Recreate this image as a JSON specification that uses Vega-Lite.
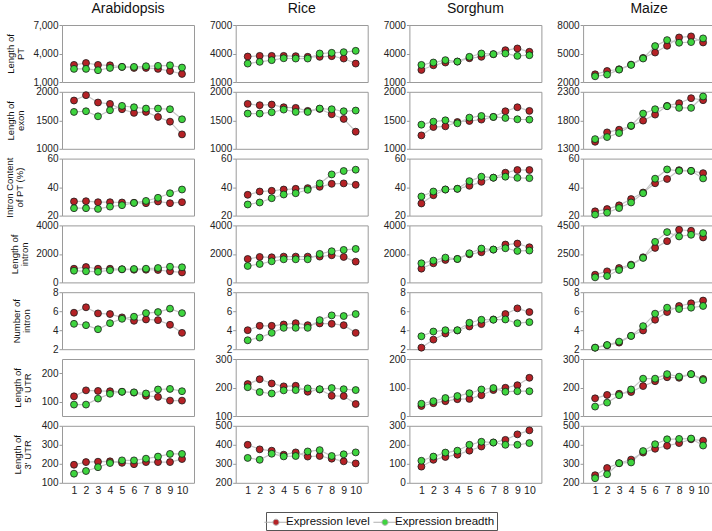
{
"$schema": "https://vega.github.io/schema/vega-lite/v6.json",
"padding": {"left": 3, "top": 1, "right": 2, "bottom": 2},
"columns": 4,
"spacing": {"row": 9.8, "column": 41.7},
"bounds": "flush",
"config": {
 "font": "Liberation Sans",
 "view": {"stroke": "#9a9a9a", "strokeWidth": 1},
 "axis": {"grid": false, "domain": false, "labelFontSize": 10, "labelColor": "#222", "titleFontSize": 9.5, "titleLineHeight": 10, "titleFontWeight": "normal", "titleColor": "#111", "titleAngle": 270, "titleBaseline": "bottom", "tickColor": "#999", "tickSize": 3, "labelPadding": 1, "labelFlush": false, "labelOverlap": false},
 "title": {"fontSize": 14, "fontWeight": "normal", "color": "#111", "offset": 4},
 "legend": {"orient": "none", "legendX": 204, "legendY": 487, "direction": "horizontal", "strokeColor": "#555", "padding": 2, "symbolType": "M-1.6,0L-0.42,0M0.42,0L1.6,0M-0.42,0A0.42,0.42,0,1,0,0.42,0A0.42,0.42,0,1,0,-0.42,0Z", "symbolSize": 210, "symbolStrokeColor": "#b0b0b0", "symbolStrokeWidth": 1, "labelFontSize": 11.5, "labelColor": "#111", "columnPadding": 1, "labelOffset": 2}
},
"datasets": {
"d11": [{"x":1,"s":"L","y":2800},{"x":2,"s":"L","y":3000},{"x":3,"s":"L","y":2800},{"x":4,"s":"L","y":2760},{"x":5,"s":"L","y":2590},{"x":6,"s":"L","y":2480},{"x":7,"s":"L","y":2480},{"x":8,"s":"L","y":2380},{"x":9,"s":"L","y":2160},{"x":10,"s":"L","y":1850},{"x":1,"s":"B","y":2380},{"x":2,"s":"B","y":2380},{"x":3,"s":"B","y":2240},{"x":4,"s":"B","y":2480},{"x":5,"s":"B","y":2590},{"x":6,"s":"B","y":2590},{"x":7,"s":"B","y":2660},{"x":8,"s":"B","y":2700},{"x":9,"s":"B","y":2760},{"x":10,"s":"B","y":2520}],
"d12": [{"x":1,"s":"L","y":3680},{"x":2,"s":"L","y":3750},{"x":3,"s":"L","y":3750},{"x":4,"s":"L","y":3750},{"x":5,"s":"L","y":3720},{"x":6,"s":"L","y":3650},{"x":7,"s":"L","y":3650},{"x":8,"s":"L","y":3720},{"x":9,"s":"L","y":3470},{"x":10,"s":"L","y":2940},{"x":1,"s":"B","y":2940},{"x":2,"s":"B","y":3120},{"x":3,"s":"B","y":3300},{"x":4,"s":"B","y":3500},{"x":5,"s":"B","y":3470},{"x":6,"s":"B","y":3470},{"x":7,"s":"B","y":4000},{"x":8,"s":"B","y":4070},{"x":9,"s":"B","y":4140},{"x":10,"s":"B","y":4280}],
"d13": [{"x":1,"s":"L","y":2270},{"x":2,"s":"L","y":2760},{"x":3,"s":"L","y":3050},{"x":4,"s":"L","y":3150},{"x":5,"s":"L","y":3500},{"x":6,"s":"L","y":3650},{"x":7,"s":"L","y":3930},{"x":8,"s":"L","y":4350},{"x":9,"s":"L","y":4530},{"x":10,"s":"L","y":4180},{"x":1,"s":"B","y":2800},{"x":2,"s":"B","y":3050},{"x":3,"s":"B","y":3300},{"x":4,"s":"B","y":3150},{"x":5,"s":"B","y":3650},{"x":6,"s":"B","y":4000},{"x":7,"s":"B","y":3930},{"x":8,"s":"B","y":4000},{"x":9,"s":"B","y":3750},{"x":10,"s":"B","y":3820}],
"d14": [{"x":1,"s":"L","y":2810},{"x":2,"s":"L","y":3160},{"x":3,"s":"L","y":3340},{"x":4,"s":"L","y":3830},{"x":5,"s":"L","y":4540},{"x":6,"s":"L","y":5100},{"x":7,"s":"L","y":5810},{"x":8,"s":"L","y":6690},{"x":9,"s":"L","y":6800},{"x":10,"s":"L","y":6160},{"x":1,"s":"B","y":2600},{"x":2,"s":"B","y":2780},{"x":3,"s":"B","y":3300},{"x":4,"s":"B","y":3800},{"x":5,"s":"B","y":4470},{"x":6,"s":"B","y":5780},{"x":7,"s":"B","y":6410},{"x":8,"s":"B","y":6130},{"x":9,"s":"B","y":6200},{"x":10,"s":"B","y":6590}],
"d21": [{"x":1,"s":"L","y":1847},{"x":2,"s":"L","y":1941},{"x":3,"s":"L","y":1812},{"x":4,"s":"L","y":1788},{"x":5,"s":"L","y":1694},{"x":6,"s":"L","y":1630},{"x":7,"s":"L","y":1647},{"x":8,"s":"L","y":1559},{"x":9,"s":"L","y":1476},{"x":10,"s":"L","y":1253},{"x":1,"s":"B","y":1647},{"x":2,"s":"B","y":1659},{"x":3,"s":"B","y":1570},{"x":4,"s":"B","y":1676},{"x":5,"s":"B","y":1753},{"x":6,"s":"B","y":1729},{"x":7,"s":"B","y":1706},{"x":8,"s":"B","y":1706},{"x":9,"s":"B","y":1694},{"x":10,"s":"B","y":1518}],
"d22": [{"x":1,"s":"L","y":1788},{"x":2,"s":"L","y":1765},{"x":3,"s":"L","y":1776},{"x":4,"s":"L","y":1729},{"x":5,"s":"L","y":1718},{"x":6,"s":"L","y":1665},{"x":7,"s":"L","y":1700},{"x":8,"s":"L","y":1606},{"x":9,"s":"L","y":1524},{"x":10,"s":"L","y":1300},{"x":1,"s":"B","y":1618},{"x":2,"s":"B","y":1618},{"x":3,"s":"B","y":1641},{"x":4,"s":"B","y":1688},{"x":5,"s":"B","y":1647},{"x":6,"s":"B","y":1647},{"x":7,"s":"B","y":1706},{"x":8,"s":"B","y":1694},{"x":9,"s":"B","y":1659},{"x":10,"s":"B","y":1671}],
"d23": [{"x":1,"s":"L","y":1235},{"x":2,"s":"L","y":1382},{"x":3,"s":"L","y":1394},{"x":4,"s":"L","y":1470},{"x":5,"s":"L","y":1488},{"x":6,"s":"L","y":1512},{"x":7,"s":"L","y":1559},{"x":8,"s":"L","y":1659},{"x":9,"s":"L","y":1729},{"x":10,"s":"L","y":1665},{"x":1,"s":"B","y":1423},{"x":2,"s":"B","y":1476},{"x":3,"s":"B","y":1500},{"x":4,"s":"B","y":1447},{"x":5,"s":"B","y":1547},{"x":6,"s":"B","y":1576},{"x":7,"s":"B","y":1559},{"x":8,"s":"B","y":1541},{"x":9,"s":"B","y":1518},{"x":10,"s":"B","y":1512}],
"d24": [{"x":1,"s":"L","y":1423},{"x":2,"s":"L","y":1588},{"x":3,"s":"L","y":1635},{"x":4,"s":"L","y":1700},{"x":5,"s":"L","y":1794},{"x":6,"s":"L","y":1900},{"x":7,"s":"L","y":2053},{"x":8,"s":"L","y":2100},{"x":9,"s":"L","y":2188},{"x":10,"s":"L","y":2153},{"x":1,"s":"B","y":1470},{"x":2,"s":"B","y":1506},{"x":3,"s":"B","y":1576},{"x":4,"s":"B","y":1706},{"x":5,"s":"B","y":1918},{"x":6,"s":"B","y":1994},{"x":7,"s":"B","y":2047},{"x":8,"s":"B","y":2018},{"x":9,"s":"B","y":2018},{"x":10,"s":"B","y":2218}],
"d31": [{"x":1,"s":"L","y":29.9},{"x":2,"s":"L","y":30.1},{"x":3,"s":"L","y":29.4},{"x":4,"s":"L","y":29.4},{"x":5,"s":"L","y":29.2},{"x":6,"s":"L","y":29.0},{"x":7,"s":"L","y":28.7},{"x":8,"s":"L","y":29.9},{"x":9,"s":"L","y":28.7},{"x":10,"s":"L","y":29.4},{"x":1,"s":"B","y":25.2},{"x":2,"s":"B","y":25.2},{"x":3,"s":"B","y":24.7},{"x":4,"s":"B","y":26.3},{"x":5,"s":"B","y":27.3},{"x":6,"s":"B","y":28.9},{"x":7,"s":"B","y":30.3},{"x":8,"s":"B","y":32.5},{"x":9,"s":"B","y":35.7},{"x":10,"s":"B","y":38.3}],
"d32": [{"x":1,"s":"L","y":34.6},{"x":2,"s":"L","y":36.9},{"x":3,"s":"L","y":37.4},{"x":4,"s":"L","y":38.3},{"x":5,"s":"L","y":38.8},{"x":6,"s":"L","y":39.3},{"x":7,"s":"L","y":40.2},{"x":8,"s":"L","y":42.3},{"x":9,"s":"L","y":42.6},{"x":10,"s":"L","y":41.6},{"x":1,"s":"B","y":27.8},{"x":2,"s":"B","y":29.2},{"x":3,"s":"B","y":32.2},{"x":4,"s":"B","y":34.8},{"x":5,"s":"B","y":35.7},{"x":6,"s":"B","y":38.1},{"x":7,"s":"B","y":42.6},{"x":8,"s":"B","y":48.9},{"x":9,"s":"B","y":51.3},{"x":10,"s":"B","y":52.2}],
"d33": [{"x":1,"s":"L","y":28.5},{"x":2,"s":"L","y":34.3},{"x":3,"s":"L","y":38.3},{"x":4,"s":"L","y":38.8},{"x":5,"s":"L","y":40.9},{"x":6,"s":"L","y":43.7},{"x":7,"s":"L","y":46.6},{"x":8,"s":"L","y":50.1},{"x":9,"s":"L","y":52.0},{"x":10,"s":"L","y":52.0},{"x":1,"s":"B","y":33.4},{"x":2,"s":"B","y":36.9},{"x":3,"s":"B","y":38.3},{"x":4,"s":"B","y":38.8},{"x":5,"s":"B","y":44.2},{"x":6,"s":"B","y":47.3},{"x":7,"s":"B","y":46.6},{"x":8,"s":"B","y":47.3},{"x":9,"s":"B","y":46.5},{"x":10,"s":"B","y":46.3}],
"d34": [{"x":1,"s":"L","y":23.0},{"x":2,"s":"L","y":24.6},{"x":3,"s":"L","y":27.2},{"x":4,"s":"L","y":31.6},{"x":5,"s":"L","y":36.2},{"x":6,"s":"L","y":42.7},{"x":7,"s":"L","y":45.7},{"x":8,"s":"L","y":51.9},{"x":9,"s":"L","y":51.4},{"x":10,"s":"L","y":49.8},{"x":1,"s":"B","y":20.7},{"x":2,"s":"B","y":22.1},{"x":3,"s":"B","y":25.3},{"x":4,"s":"B","y":29.2},{"x":5,"s":"B","y":35.7},{"x":6,"s":"B","y":45.9},{"x":7,"s":"B","y":52.4},{"x":8,"s":"B","y":51.4},{"x":9,"s":"B","y":51.4},{"x":10,"s":"B","y":46.1}],
"d41": [{"x":1,"s":"L","y":960},{"x":2,"s":"L","y":1080},{"x":3,"s":"L","y":960},{"x":4,"s":"L","y":960},{"x":5,"s":"L","y":920},{"x":6,"s":"L","y":890},{"x":7,"s":"L","y":890},{"x":8,"s":"L","y":870},{"x":9,"s":"L","y":780},{"x":10,"s":"L","y":700},{"x":1,"s":"B","y":820},{"x":2,"s":"B","y":780},{"x":3,"s":"B","y":750},{"x":4,"s":"B","y":850},{"x":5,"s":"B","y":920},{"x":6,"s":"B","y":940},{"x":7,"s":"B","y":960},{"x":8,"s":"B","y":1010},{"x":9,"s":"B","y":1100},{"x":10,"s":"B","y":1060}],
"d42": [{"x":1,"s":"L","y":1645},{"x":2,"s":"L","y":1786},{"x":3,"s":"L","y":1763},{"x":4,"s":"L","y":1810},{"x":5,"s":"L","y":1810},{"x":6,"s":"L","y":1810},{"x":7,"s":"L","y":1810},{"x":8,"s":"L","y":1904},{"x":9,"s":"L","y":1786},{"x":10,"s":"L","y":1457},{"x":1,"s":"B","y":1152},{"x":2,"s":"B","y":1293},{"x":3,"s":"B","y":1481},{"x":4,"s":"B","y":1622},{"x":5,"s":"B","y":1622},{"x":6,"s":"B","y":1622},{"x":7,"s":"B","y":2000},{"x":8,"s":"B","y":2186},{"x":9,"s":"B","y":2280},{"x":10,"s":"B","y":2350}],
"d43": [{"x":1,"s":"L","y":964},{"x":2,"s":"L","y":1340},{"x":3,"s":"L","y":1575},{"x":4,"s":"L","y":1645},{"x":5,"s":"L","y":1974},{"x":6,"s":"L","y":2115},{"x":7,"s":"L","y":2303},{"x":8,"s":"L","y":2656},{"x":9,"s":"L","y":2726},{"x":10,"s":"L","y":2468},{"x":1,"s":"B","y":1340},{"x":2,"s":"B","y":1528},{"x":3,"s":"B","y":1740},{"x":4,"s":"B","y":1645},{"x":5,"s":"B","y":2045},{"x":6,"s":"B","y":2374},{"x":7,"s":"B","y":2303},{"x":8,"s":"B","y":2397},{"x":9,"s":"B","y":2209},{"x":10,"s":"B","y":2233}],
"d44": [{"x":1,"s":"L","y":1041},{"x":2,"s":"L","y":1276},{"x":3,"s":"L","y":1511},{"x":4,"s":"L","y":1746},{"x":5,"s":"L","y":2263},{"x":6,"s":"L","y":2920},{"x":7,"s":"L","y":3395},{"x":8,"s":"L","y":4195},{"x":9,"s":"L","y":4124},{"x":10,"s":"L","y":3654},{"x":1,"s":"B","y":853},{"x":2,"s":"B","y":947},{"x":3,"s":"B","y":1370},{"x":4,"s":"B","y":1699},{"x":5,"s":"B","y":2216},{"x":6,"s":"B","y":3345},{"x":7,"s":"B","y":4030},{"x":8,"s":"B","y":3725},{"x":9,"s":"B","y":3842},{"x":10,"s":"B","y":3960}],
"d51": [{"x":1,"s":"L","y":5.84},{"x":2,"s":"L","y":6.41},{"x":3,"s":"L","y":5.77},{"x":4,"s":"L","y":5.70},{"x":5,"s":"L","y":5.35},{"x":6,"s":"L","y":4.99},{"x":7,"s":"L","y":5.13},{"x":8,"s":"L","y":5.06},{"x":9,"s":"L","y":4.57},{"x":10,"s":"L","y":3.72},{"x":1,"s":"B","y":4.67},{"x":2,"s":"B","y":4.53},{"x":3,"s":"B","y":4.10},{"x":4,"s":"B","y":4.74},{"x":5,"s":"B","y":5.20},{"x":6,"s":"B","y":5.42},{"x":7,"s":"B","y":5.80},{"x":8,"s":"B","y":5.91},{"x":9,"s":"B","y":6.27},{"x":10,"s":"B","y":5.80}],
"d52": [{"x":1,"s":"L","y":4.00},{"x":2,"s":"L","y":4.46},{"x":3,"s":"L","y":4.46},{"x":4,"s":"L","y":4.60},{"x":5,"s":"L","y":4.74},{"x":6,"s":"L","y":4.53},{"x":7,"s":"L","y":4.71},{"x":8,"s":"L","y":4.67},{"x":9,"s":"L","y":4.53},{"x":10,"s":"L","y":3.72},{"x":1,"s":"B","y":2.94},{"x":2,"s":"B","y":3.22},{"x":3,"s":"B","y":3.72},{"x":4,"s":"B","y":4.25},{"x":5,"s":"B","y":4.25},{"x":6,"s":"B","y":4.25},{"x":7,"s":"B","y":5.06},{"x":8,"s":"B","y":5.56},{"x":9,"s":"B","y":5.49},{"x":10,"s":"B","y":5.70}],
"d53": [{"x":1,"s":"L","y":2.16},{"x":2,"s":"L","y":3.01},{"x":3,"s":"L","y":3.65},{"x":4,"s":"L","y":3.97},{"x":5,"s":"L","y":4.39},{"x":6,"s":"L","y":4.64},{"x":7,"s":"L","y":5.13},{"x":8,"s":"L","y":5.70},{"x":9,"s":"L","y":6.30},{"x":10,"s":"L","y":5.91},{"x":1,"s":"B","y":3.36},{"x":2,"s":"B","y":3.86},{"x":3,"s":"B","y":4.00},{"x":4,"s":"B","y":4.00},{"x":5,"s":"B","y":4.78},{"x":6,"s":"B","y":5.10},{"x":7,"s":"B","y":5.10},{"x":8,"s":"B","y":5.13},{"x":9,"s":"B","y":4.74},{"x":10,"s":"B","y":4.85}],
"d54": [{"x":1,"s":"L","y":2.16},{"x":2,"s":"L","y":2.41},{"x":3,"s":"L","y":2.69},{"x":4,"s":"L","y":3.40},{"x":5,"s":"L","y":3.97},{"x":6,"s":"L","y":5.10},{"x":7,"s":"L","y":5.91},{"x":8,"s":"L","y":6.55},{"x":9,"s":"L","y":6.83},{"x":10,"s":"L","y":7.12},{"x":1,"s":"B","y":2.16},{"x":2,"s":"B","y":2.44},{"x":3,"s":"B","y":2.80},{"x":4,"s":"B","y":3.40},{"x":5,"s":"B","y":4.43},{"x":6,"s":"B","y":5.74},{"x":7,"s":"B","y":6.37},{"x":8,"s":"B","y":6.23},{"x":9,"s":"B","y":6.37},{"x":10,"s":"B","y":6.55}],
"d61": [{"x":1,"s":"L","y":119},{"x":2,"s":"L","y":140},{"x":3,"s":"L","y":138},{"x":4,"s":"L","y":137},{"x":5,"s":"L","y":135},{"x":6,"s":"L","y":132},{"x":7,"s":"L","y":121},{"x":8,"s":"L","y":117},{"x":9,"s":"L","y":104},{"x":10,"s":"L","y":104},{"x":1,"s":"B","y":90},{"x":2,"s":"B","y":90},{"x":3,"s":"B","y":111},{"x":4,"s":"B","y":128},{"x":5,"s":"B","y":135},{"x":6,"s":"B","y":133},{"x":7,"s":"B","y":129},{"x":8,"s":"B","y":143},{"x":9,"s":"B","y":145},{"x":10,"s":"B","y":137}],
"d62": [{"x":1,"s":"L","y":212},{"x":2,"s":"L","y":229},{"x":3,"s":"L","y":214},{"x":4,"s":"L","y":204},{"x":5,"s":"L","y":206},{"x":6,"s":"L","y":185},{"x":7,"s":"L","y":193},{"x":8,"s":"L","y":171},{"x":9,"s":"L","y":170},{"x":10,"s":"L","y":142},{"x":1,"s":"B","y":201},{"x":2,"s":"B","y":184},{"x":3,"s":"B","y":179},{"x":4,"s":"B","y":190},{"x":5,"s":"B","y":191},{"x":6,"s":"B","y":197},{"x":7,"s":"B","y":194},{"x":8,"s":"B","y":198},{"x":9,"s":"B","y":194},{"x":10,"s":"B","y":191}],
"d63": [{"x":1,"s":"L","y":35},{"x":2,"s":"L","y":45},{"x":3,"s":"L","y":52},{"x":4,"s":"L","y":59},{"x":5,"s":"L","y":60},{"x":6,"s":"L","y":73},{"x":7,"s":"L","y":91},{"x":8,"s":"L","y":99},{"x":9,"s":"L","y":108},{"x":10,"s":"L","y":134},{"x":1,"s":"B","y":43},{"x":2,"s":"B","y":52},{"x":3,"s":"B","y":63},{"x":4,"s":"B","y":70},{"x":5,"s":"B","y":80},{"x":6,"s":"B","y":93},{"x":7,"s":"B","y":98},{"x":8,"s":"B","y":85},{"x":9,"s":"B","y":87},{"x":10,"s":"B","y":87}],
"d64": [{"x":1,"s":"L","y":162},{"x":2,"s":"L","y":174},{"x":3,"s":"L","y":178},{"x":4,"s":"L","y":184},{"x":5,"s":"L","y":205},{"x":6,"s":"L","y":222},{"x":7,"s":"L","y":236},{"x":8,"s":"L","y":234},{"x":9,"s":"L","y":247},{"x":10,"s":"L","y":230},{"x":1,"s":"B","y":133},{"x":2,"s":"B","y":147},{"x":3,"s":"B","y":173},{"x":4,"s":"B","y":193},{"x":5,"s":"B","y":231},{"x":6,"s":"B","y":231},{"x":7,"s":"B","y":247},{"x":8,"s":"B","y":238},{"x":9,"s":"B","y":247},{"x":10,"s":"B","y":226}],
"d71": [{"x":1,"s":"L","y":195},{"x":2,"s":"L","y":209},{"x":3,"s":"L","y":211},{"x":4,"s":"L","y":213},{"x":5,"s":"L","y":205},{"x":6,"s":"L","y":198},{"x":7,"s":"L","y":209},{"x":8,"s":"L","y":209},{"x":9,"s":"L","y":209},{"x":10,"s":"L","y":225},{"x":1,"s":"B","y":148},{"x":2,"s":"B","y":162},{"x":3,"s":"B","y":182},{"x":4,"s":"B","y":204},{"x":5,"s":"B","y":218},{"x":6,"s":"B","y":218},{"x":7,"s":"B","y":227},{"x":8,"s":"B","y":238},{"x":9,"s":"B","y":252},{"x":10,"s":"B","y":252}],
"d72": [{"x":1,"s":"L","y":400},{"x":2,"s":"L","y":376},{"x":3,"s":"L","y":369},{"x":4,"s":"L","y":348},{"x":5,"s":"L","y":360},{"x":6,"s":"L","y":338},{"x":7,"s":"L","y":341},{"x":8,"s":"L","y":327},{"x":9,"s":"L","y":313},{"x":10,"s":"L","y":302},{"x":1,"s":"B","y":331},{"x":2,"s":"B","y":321},{"x":3,"s":"B","y":353},{"x":4,"s":"B","y":339},{"x":5,"s":"B","y":341},{"x":6,"s":"B","y":365},{"x":7,"s":"B","y":372},{"x":8,"s":"B","y":341},{"x":9,"s":"B","y":350},{"x":10,"s":"B","y":360}],
"d73": [{"x":1,"s":"L","y":85},{"x":2,"s":"L","y":121},{"x":3,"s":"L","y":136},{"x":4,"s":"L","y":148},{"x":5,"s":"L","y":169},{"x":6,"s":"L","y":191},{"x":7,"s":"L","y":212},{"x":8,"s":"L","y":226},{"x":9,"s":"L","y":255},{"x":10,"s":"L","y":276},{"x":1,"s":"B","y":116},{"x":2,"s":"B","y":138},{"x":3,"s":"B","y":159},{"x":4,"s":"B","y":169},{"x":5,"s":"B","y":200},{"x":6,"s":"B","y":216},{"x":7,"s":"B","y":212},{"x":8,"s":"B","y":200},{"x":9,"s":"B","y":200},{"x":10,"s":"B","y":209}],
"d74": [{"x":1,"s":"L","y":240},{"x":2,"s":"L","y":278},{"x":3,"s":"L","y":303},{"x":4,"s":"L","y":322},{"x":5,"s":"L","y":359},{"x":6,"s":"L","y":379},{"x":7,"s":"L","y":395},{"x":8,"s":"L","y":409},{"x":9,"s":"L","y":429},{"x":10,"s":"L","y":422},{"x":1,"s":"B","y":224},{"x":2,"s":"B","y":245},{"x":3,"s":"B","y":303},{"x":4,"s":"B","y":307},{"x":5,"s":"B","y":367},{"x":6,"s":"B","y":403},{"x":7,"s":"B","y":429},{"x":8,"s":"B","y":431},{"x":9,"s":"B","y":433},{"x":10,"s":"B","y":396}]
},
"concat": [
{"data":{"name":"d11"},"width":132,"height":57,"title":"Arabidopsis","encoding":{"x":{"field":"x","type":"quantitative","scale":{"domain":[0,11],"nice":false},"axis":null},"y":{"field":"y","type":"quantitative","scale":{"domain":[1000,7000],"nice":false},"axis":{"values":[1000,4000,7000],"format":",d","title":["Length of","PT"],"titleX":-47}}},"layer":[{"mark":{"type":"line","color":"#c6c6c6","strokeWidth":1.2},"encoding":{"detail":{"field":"s"}}},{"mark":{"type":"point","filled":true,"size":48,"stroke":"#1a1a1a","strokeWidth":0.8,"opacity":1},"encoding":{"color":{"field":"s","type":"nominal","scale":{"domain":["L","B"],"range":["#b52226","#3ed43e"]},"legend":{"title":null,"labelExpr":"datum.value=='L'?'Expression level':'Expression breadth'"}}}}]},
{"data":{"name":"d12"},"width":132,"height":57,"title":"Rice","encoding":{"x":{"field":"x","type":"quantitative","scale":{"domain":[0,11],"nice":false},"axis":null},"y":{"field":"y","type":"quantitative","scale":{"domain":[1000,7000],"nice":false},"axis":{"values":[1000,4000,7000],"format":"d","title":null}}},"layer":[{"mark":{"type":"line","color":"#c6c6c6","strokeWidth":1.2},"encoding":{"detail":{"field":"s"}}},{"mark":{"type":"point","filled":true,"size":48,"stroke":"#1a1a1a","strokeWidth":0.8,"opacity":1},"encoding":{"color":{"field":"s","type":"nominal","scale":{"domain":["L","B"],"range":["#b52226","#3ed43e"]},"legend":{"title":null,"labelExpr":"datum.value=='L'?'Expression level':'Expression breadth'"}}}}]},
{"data":{"name":"d13"},"width":132,"height":57,"title":"Sorghum","encoding":{"x":{"field":"x","type":"quantitative","scale":{"domain":[0,11],"nice":false},"axis":null},"y":{"field":"y","type":"quantitative","scale":{"domain":[1000,7000],"nice":false},"axis":{"values":[1000,4000,7000],"format":"d","title":null}}},"layer":[{"mark":{"type":"line","color":"#c6c6c6","strokeWidth":1.2},"encoding":{"detail":{"field":"s"}}},{"mark":{"type":"point","filled":true,"size":48,"stroke":"#1a1a1a","strokeWidth":0.8,"opacity":1},"encoding":{"color":{"field":"s","type":"nominal","scale":{"domain":["L","B"],"range":["#b52226","#3ed43e"]},"legend":{"title":null,"labelExpr":"datum.value=='L'?'Expression level':'Expression breadth'"}}}}]},
{"data":{"name":"d14"},"width":132,"height":57,"title":"Maize","encoding":{"x":{"field":"x","type":"quantitative","scale":{"domain":[0,11],"nice":false},"axis":null},"y":{"field":"y","type":"quantitative","scale":{"domain":[2000,8000],"nice":false},"axis":{"values":[2000,5000,8000],"format":"d","title":null}}},"layer":[{"mark":{"type":"line","color":"#c6c6c6","strokeWidth":1.2},"encoding":{"detail":{"field":"s"}}},{"mark":{"type":"point","filled":true,"size":48,"stroke":"#1a1a1a","strokeWidth":0.8,"opacity":1},"encoding":{"color":{"field":"s","type":"nominal","scale":{"domain":["L","B"],"range":["#b52226","#3ed43e"]},"legend":{"title":null,"labelExpr":"datum.value=='L'?'Expression level':'Expression breadth'"}}}}]},

{"data":{"name":"d21"},"width":132,"height":57,"encoding":{"x":{"field":"x","type":"quantitative","scale":{"domain":[0,11],"nice":false},"axis":null},"y":{"field":"y","type":"quantitative","scale":{"domain":[1000,2000],"nice":false},"axis":{"values":[1000,1500,2000],"format":"d","title":["Length of","exon"],"titleX":-47}}},"layer":[{"mark":{"type":"line","color":"#c6c6c6","strokeWidth":1.2},"encoding":{"detail":{"field":"s"}}},{"mark":{"type":"point","filled":true,"size":48,"stroke":"#1a1a1a","strokeWidth":0.8,"opacity":1},"encoding":{"color":{"field":"s","type":"nominal","scale":{"domain":["L","B"],"range":["#b52226","#3ed43e"]},"legend":{"title":null,"labelExpr":"datum.value=='L'?'Expression level':'Expression breadth'"}}}}]},
{"data":{"name":"d22"},"width":132,"height":57,"encoding":{"x":{"field":"x","type":"quantitative","scale":{"domain":[0,11],"nice":false},"axis":null},"y":{"field":"y","type":"quantitative","scale":{"domain":[1000,2000],"nice":false},"axis":{"values":[1000,1500,2000],"format":"d","title":null}}},"layer":[{"mark":{"type":"line","color":"#c6c6c6","strokeWidth":1.2},"encoding":{"detail":{"field":"s"}}},{"mark":{"type":"point","filled":true,"size":48,"stroke":"#1a1a1a","strokeWidth":0.8,"opacity":1},"encoding":{"color":{"field":"s","type":"nominal","scale":{"domain":["L","B"],"range":["#b52226","#3ed43e"]},"legend":{"title":null,"labelExpr":"datum.value=='L'?'Expression level':'Expression breadth'"}}}}]},
{"data":{"name":"d23"},"width":132,"height":57,"encoding":{"x":{"field":"x","type":"quantitative","scale":{"domain":[0,11],"nice":false},"axis":null},"y":{"field":"y","type":"quantitative","scale":{"domain":[1000,2000],"nice":false},"axis":{"values":[1000,1500,2000],"format":"d","title":null}}},"layer":[{"mark":{"type":"line","color":"#c6c6c6","strokeWidth":1.2},"encoding":{"detail":{"field":"s"}}},{"mark":{"type":"point","filled":true,"size":48,"stroke":"#1a1a1a","strokeWidth":0.8,"opacity":1},"encoding":{"color":{"field":"s","type":"nominal","scale":{"domain":["L","B"],"range":["#b52226","#3ed43e"]},"legend":{"title":null,"labelExpr":"datum.value=='L'?'Expression level':'Expression breadth'"}}}}]},
{"data":{"name":"d24"},"width":132,"height":57,"encoding":{"x":{"field":"x","type":"quantitative","scale":{"domain":[0,11],"nice":false},"axis":null},"y":{"field":"y","type":"quantitative","scale":{"domain":[1300,2300],"nice":false},"axis":{"values":[1300,1800,2300],"format":"d","title":null}}},"layer":[{"mark":{"type":"line","color":"#c6c6c6","strokeWidth":1.2},"encoding":{"detail":{"field":"s"}}},{"mark":{"type":"point","filled":true,"size":48,"stroke":"#1a1a1a","strokeWidth":0.8,"opacity":1},"encoding":{"color":{"field":"s","type":"nominal","scale":{"domain":["L","B"],"range":["#b52226","#3ed43e"]},"legend":{"title":null,"labelExpr":"datum.value=='L'?'Expression level':'Expression breadth'"}}}}]},

{"data":{"name":"d31"},"width":132,"height":57,"encoding":{"x":{"field":"x","type":"quantitative","scale":{"domain":[0,11],"nice":false},"axis":null},"y":{"field":"y","type":"quantitative","scale":{"domain":[20,60],"nice":false},"axis":{"values":[20,40,60],"format":"d","title":["Intron Content","of PT (%)"],"titleX":-48}}},"layer":[{"mark":{"type":"line","color":"#c6c6c6","strokeWidth":1.2},"encoding":{"detail":{"field":"s"}}},{"mark":{"type":"point","filled":true,"size":48,"stroke":"#1a1a1a","strokeWidth":0.8,"opacity":1},"encoding":{"color":{"field":"s","type":"nominal","scale":{"domain":["L","B"],"range":["#b52226","#3ed43e"]},"legend":{"title":null,"labelExpr":"datum.value=='L'?'Expression level':'Expression breadth'"}}}}]},
{"data":{"name":"d32"},"width":132,"height":57,"encoding":{"x":{"field":"x","type":"quantitative","scale":{"domain":[0,11],"nice":false},"axis":null},"y":{"field":"y","type":"quantitative","scale":{"domain":[20,60],"nice":false},"axis":{"values":[20,40,60],"format":"d","title":null}}},"layer":[{"mark":{"type":"line","color":"#c6c6c6","strokeWidth":1.2},"encoding":{"detail":{"field":"s"}}},{"mark":{"type":"point","filled":true,"size":48,"stroke":"#1a1a1a","strokeWidth":0.8,"opacity":1},"encoding":{"color":{"field":"s","type":"nominal","scale":{"domain":["L","B"],"range":["#b52226","#3ed43e"]},"legend":{"title":null,"labelExpr":"datum.value=='L'?'Expression level':'Expression breadth'"}}}}]},
{"data":{"name":"d33"},"width":132,"height":57,"encoding":{"x":{"field":"x","type":"quantitative","scale":{"domain":[0,11],"nice":false},"axis":null},"y":{"field":"y","type":"quantitative","scale":{"domain":[20,60],"nice":false},"axis":{"values":[20,40,60],"format":"d","title":null}}},"layer":[{"mark":{"type":"line","color":"#c6c6c6","strokeWidth":1.2},"encoding":{"detail":{"field":"s"}}},{"mark":{"type":"point","filled":true,"size":48,"stroke":"#1a1a1a","strokeWidth":0.8,"opacity":1},"encoding":{"color":{"field":"s","type":"nominal","scale":{"domain":["L","B"],"range":["#b52226","#3ed43e"]},"legend":{"title":null,"labelExpr":"datum.value=='L'?'Expression level':'Expression breadth'"}}}}]},
{"data":{"name":"d34"},"width":132,"height":57,"encoding":{"x":{"field":"x","type":"quantitative","scale":{"domain":[0,11],"nice":false},"axis":null},"y":{"field":"y","type":"quantitative","scale":{"domain":[20,60],"nice":false},"axis":{"values":[20,40,60],"format":"d","title":null}}},"layer":[{"mark":{"type":"line","color":"#c6c6c6","strokeWidth":1.2},"encoding":{"detail":{"field":"s"}}},{"mark":{"type":"point","filled":true,"size":48,"stroke":"#1a1a1a","strokeWidth":0.8,"opacity":1},"encoding":{"color":{"field":"s","type":"nominal","scale":{"domain":["L","B"],"range":["#b52226","#3ed43e"]},"legend":{"title":null,"labelExpr":"datum.value=='L'?'Expression level':'Expression breadth'"}}}}]},

{"data":{"name":"d41"},"width":132,"height":57,"encoding":{"x":{"field":"x","type":"quantitative","scale":{"domain":[0,11],"nice":false},"axis":null},"y":{"field":"y","type":"quantitative","scale":{"domain":[0,4000],"nice":false},"axis":{"values":[0,2000,4000],"format":"d","title":["Length of","intron"],"titleX":-43}}},"layer":[{"mark":{"type":"line","color":"#c6c6c6","strokeWidth":1.2},"encoding":{"detail":{"field":"s"}}},{"mark":{"type":"point","filled":true,"size":48,"stroke":"#1a1a1a","strokeWidth":0.8,"opacity":1},"encoding":{"color":{"field":"s","type":"nominal","scale":{"domain":["L","B"],"range":["#b52226","#3ed43e"]},"legend":{"title":null,"labelExpr":"datum.value=='L'?'Expression level':'Expression breadth'"}}}}]},
{"data":{"name":"d42"},"width":132,"height":57,"encoding":{"x":{"field":"x","type":"quantitative","scale":{"domain":[0,11],"nice":false},"axis":null},"y":{"field":"y","type":"quantitative","scale":{"domain":[0,4000],"nice":false},"axis":{"values":[0,2000,4000],"format":"d","title":null}}},"layer":[{"mark":{"type":"line","color":"#c6c6c6","strokeWidth":1.2},"encoding":{"detail":{"field":"s"}}},{"mark":{"type":"point","filled":true,"size":48,"stroke":"#1a1a1a","strokeWidth":0.8,"opacity":1},"encoding":{"color":{"field":"s","type":"nominal","scale":{"domain":["L","B"],"range":["#b52226","#3ed43e"]},"legend":{"title":null,"labelExpr":"datum.value=='L'?'Expression level':'Expression breadth'"}}}}]},
{"data":{"name":"d43"},"width":132,"height":57,"encoding":{"x":{"field":"x","type":"quantitative","scale":{"domain":[0,11],"nice":false},"axis":null},"y":{"field":"y","type":"quantitative","scale":{"domain":[0,4000],"nice":false},"axis":{"values":[0,2000,4000],"format":"d","title":null}}},"layer":[{"mark":{"type":"line","color":"#c6c6c6","strokeWidth":1.2},"encoding":{"detail":{"field":"s"}}},{"mark":{"type":"point","filled":true,"size":48,"stroke":"#1a1a1a","strokeWidth":0.8,"opacity":1},"encoding":{"color":{"field":"s","type":"nominal","scale":{"domain":["L","B"],"range":["#b52226","#3ed43e"]},"legend":{"title":null,"labelExpr":"datum.value=='L'?'Expression level':'Expression breadth'"}}}}]},
{"data":{"name":"d44"},"width":132,"height":57,"encoding":{"x":{"field":"x","type":"quantitative","scale":{"domain":[0,11],"nice":false},"axis":null},"y":{"field":"y","type":"quantitative","scale":{"domain":[500,4500],"nice":false},"axis":{"values":[500,2500,4500],"format":"d","title":null}}},"layer":[{"mark":{"type":"line","color":"#c6c6c6","strokeWidth":1.2},"encoding":{"detail":{"field":"s"}}},{"mark":{"type":"point","filled":true,"size":48,"stroke":"#1a1a1a","strokeWidth":0.8,"opacity":1},"encoding":{"color":{"field":"s","type":"nominal","scale":{"domain":["L","B"],"range":["#b52226","#3ed43e"]},"legend":{"title":null,"labelExpr":"datum.value=='L'?'Expression level':'Expression breadth'"}}}}]},

{"data":{"name":"d51"},"width":132,"height":57,"encoding":{"x":{"field":"x","type":"quantitative","scale":{"domain":[0,11],"nice":false},"axis":null},"y":{"field":"y","type":"quantitative","scale":{"domain":[2,8],"nice":false},"axis":{"values":[2,4,6,8],"format":"d","title":["Number of","intron"],"titleX":-41}}},"layer":[{"mark":{"type":"line","color":"#c6c6c6","strokeWidth":1.2},"encoding":{"detail":{"field":"s"}}},{"mark":{"type":"point","filled":true,"size":48,"stroke":"#1a1a1a","strokeWidth":0.8,"opacity":1},"encoding":{"color":{"field":"s","type":"nominal","scale":{"domain":["L","B"],"range":["#b52226","#3ed43e"]},"legend":{"title":null,"labelExpr":"datum.value=='L'?'Expression level':'Expression breadth'"}}}}]},
{"data":{"name":"d52"},"width":132,"height":57,"encoding":{"x":{"field":"x","type":"quantitative","scale":{"domain":[0,11],"nice":false},"axis":null},"y":{"field":"y","type":"quantitative","scale":{"domain":[2,8],"nice":false},"axis":{"values":[2,4,6,8],"format":"d","title":null}}},"layer":[{"mark":{"type":"line","color":"#c6c6c6","strokeWidth":1.2},"encoding":{"detail":{"field":"s"}}},{"mark":{"type":"point","filled":true,"size":48,"stroke":"#1a1a1a","strokeWidth":0.8,"opacity":1},"encoding":{"color":{"field":"s","type":"nominal","scale":{"domain":["L","B"],"range":["#b52226","#3ed43e"]},"legend":{"title":null,"labelExpr":"datum.value=='L'?'Expression level':'Expression breadth'"}}}}]},
{"data":{"name":"d53"},"width":132,"height":57,"encoding":{"x":{"field":"x","type":"quantitative","scale":{"domain":[0,11],"nice":false},"axis":null},"y":{"field":"y","type":"quantitative","scale":{"domain":[2,8],"nice":false},"axis":{"values":[2,4,6,8],"format":"d","title":null}}},"layer":[{"mark":{"type":"line","color":"#c6c6c6","strokeWidth":1.2},"encoding":{"detail":{"field":"s"}}},{"mark":{"type":"point","filled":true,"size":48,"stroke":"#1a1a1a","strokeWidth":0.8,"opacity":1},"encoding":{"color":{"field":"s","type":"nominal","scale":{"domain":["L","B"],"range":["#b52226","#3ed43e"]},"legend":{"title":null,"labelExpr":"datum.value=='L'?'Expression level':'Expression breadth'"}}}}]},
{"data":{"name":"d54"},"width":132,"height":57,"encoding":{"x":{"field":"x","type":"quantitative","scale":{"domain":[0,11],"nice":false},"axis":null},"y":{"field":"y","type":"quantitative","scale":{"domain":[2,8],"nice":false},"axis":{"values":[2,4,6,8],"format":"d","title":null}}},"layer":[{"mark":{"type":"line","color":"#c6c6c6","strokeWidth":1.2},"encoding":{"detail":{"field":"s"}}},{"mark":{"type":"point","filled":true,"size":48,"stroke":"#1a1a1a","strokeWidth":0.8,"opacity":1},"encoding":{"color":{"field":"s","type":"nominal","scale":{"domain":["L","B"],"range":["#b52226","#3ed43e"]},"legend":{"title":null,"labelExpr":"datum.value=='L'?'Expression level':'Expression breadth'"}}}}]},

{"data":{"name":"d61"},"width":132,"height":57,"encoding":{"x":{"field":"x","type":"quantitative","scale":{"domain":[0,11],"nice":false},"axis":null},"y":{"field":"y","type":"quantitative","scale":{"domain":[50,250],"nice":false},"axis":{"values":[100,200],"format":"d","title":["Length of","5' UTR"],"titleX":-40}}},"layer":[{"mark":{"type":"line","color":"#c6c6c6","strokeWidth":1.2},"encoding":{"detail":{"field":"s"}}},{"mark":{"type":"point","filled":true,"size":48,"stroke":"#1a1a1a","strokeWidth":0.8,"opacity":1},"encoding":{"color":{"field":"s","type":"nominal","scale":{"domain":["L","B"],"range":["#b52226","#3ed43e"]},"legend":{"title":null,"labelExpr":"datum.value=='L'?'Expression level':'Expression breadth'"}}}}]},
{"data":{"name":"d62"},"width":132,"height":57,"encoding":{"x":{"field":"x","type":"quantitative","scale":{"domain":[0,11],"nice":false},"axis":null},"y":{"field":"y","type":"quantitative","scale":{"domain":[100,300],"nice":false},"axis":{"values":[100,200,300],"format":"d","title":null}}},"layer":[{"mark":{"type":"line","color":"#c6c6c6","strokeWidth":1.2},"encoding":{"detail":{"field":"s"}}},{"mark":{"type":"point","filled":true,"size":48,"stroke":"#1a1a1a","strokeWidth":0.8,"opacity":1},"encoding":{"color":{"field":"s","type":"nominal","scale":{"domain":["L","B"],"range":["#b52226","#3ed43e"]},"legend":{"title":null,"labelExpr":"datum.value=='L'?'Expression level':'Expression breadth'"}}}}]},
{"data":{"name":"d63"},"width":132,"height":57,"encoding":{"x":{"field":"x","type":"quantitative","scale":{"domain":[0,11],"nice":false},"axis":null},"y":{"field":"y","type":"quantitative","scale":{"domain":[0,200],"nice":false},"axis":{"values":[0,100,200],"format":"d","title":null}}},"layer":[{"mark":{"type":"line","color":"#c6c6c6","strokeWidth":1.2},"encoding":{"detail":{"field":"s"}}},{"mark":{"type":"point","filled":true,"size":48,"stroke":"#1a1a1a","strokeWidth":0.8,"opacity":1},"encoding":{"color":{"field":"s","type":"nominal","scale":{"domain":["L","B"],"range":["#b52226","#3ed43e"]},"legend":{"title":null,"labelExpr":"datum.value=='L'?'Expression level':'Expression breadth'"}}}}]},
{"data":{"name":"d64"},"width":132,"height":57,"encoding":{"x":{"field":"x","type":"quantitative","scale":{"domain":[0,11],"nice":false},"axis":null},"y":{"field":"y","type":"quantitative","scale":{"domain":[100,300],"nice":false},"axis":{"values":[100,200,300],"format":"d","title":null}}},"layer":[{"mark":{"type":"line","color":"#c6c6c6","strokeWidth":1.2},"encoding":{"detail":{"field":"s"}}},{"mark":{"type":"point","filled":true,"size":48,"stroke":"#1a1a1a","strokeWidth":0.8,"opacity":1},"encoding":{"color":{"field":"s","type":"nominal","scale":{"domain":["L","B"],"range":["#b52226","#3ed43e"]},"legend":{"title":null,"labelExpr":"datum.value=='L'?'Expression level':'Expression breadth'"}}}}]},

{"data":{"name":"d71"},"width":132,"height":57,"encoding":{"x":{"field":"x","type":"quantitative","scale":{"domain":[0,11],"nice":false},"axis":{"values":[1,2,3,4,5,6,7,8,9,10],"ticks":false,"labelPadding":3,"labelFontSize":10.5,"title":null}},"y":{"field":"y","type":"quantitative","scale":{"domain":[100,400],"nice":false},"axis":{"values":[100,200,300,400],"format":"d","title":["Length of","3' UTR"],"titleX":-40}}},"layer":[{"mark":{"type":"line","color":"#c6c6c6","strokeWidth":1.2},"encoding":{"detail":{"field":"s"}}},{"mark":{"type":"point","filled":true,"size":48,"stroke":"#1a1a1a","strokeWidth":0.8,"opacity":1},"encoding":{"color":{"field":"s","type":"nominal","scale":{"domain":["L","B"],"range":["#b52226","#3ed43e"]},"legend":{"title":null,"labelExpr":"datum.value=='L'?'Expression level':'Expression breadth'"}}}}]},
{"data":{"name":"d72"},"width":132,"height":57,"encoding":{"x":{"field":"x","type":"quantitative","scale":{"domain":[0,11],"nice":false},"axis":{"values":[1,2,3,4,5,6,7,8,9,10],"ticks":false,"labelPadding":3,"labelFontSize":10.5,"title":null}},"y":{"field":"y","type":"quantitative","scale":{"domain":[200,500],"nice":false},"axis":{"values":[200,300,400,500],"format":"d","title":null}}},"layer":[{"mark":{"type":"line","color":"#c6c6c6","strokeWidth":1.2},"encoding":{"detail":{"field":"s"}}},{"mark":{"type":"point","filled":true,"size":48,"stroke":"#1a1a1a","strokeWidth":0.8,"opacity":1},"encoding":{"color":{"field":"s","type":"nominal","scale":{"domain":["L","B"],"range":["#b52226","#3ed43e"]},"legend":{"title":null,"labelExpr":"datum.value=='L'?'Expression level':'Expression breadth'"}}}}]},
{"data":{"name":"d73"},"width":132,"height":57,"encoding":{"x":{"field":"x","type":"quantitative","scale":{"domain":[0,11],"nice":false},"axis":{"values":[1,2,3,4,5,6,7,8,9,10],"ticks":false,"labelPadding":3,"labelFontSize":10.5,"title":null}},"y":{"field":"y","type":"quantitative","scale":{"domain":[0,300],"nice":false},"axis":{"values":[0,100,200,300],"format":"d","title":null}}},"layer":[{"mark":{"type":"line","color":"#c6c6c6","strokeWidth":1.2},"encoding":{"detail":{"field":"s"}}},{"mark":{"type":"point","filled":true,"size":48,"stroke":"#1a1a1a","strokeWidth":0.8,"opacity":1},"encoding":{"color":{"field":"s","type":"nominal","scale":{"domain":["L","B"],"range":["#b52226","#3ed43e"]},"legend":{"title":null,"labelExpr":"datum.value=='L'?'Expression level':'Expression breadth'"}}}}]},
{"data":{"name":"d74"},"width":132,"height":57,"encoding":{"x":{"field":"x","type":"quantitative","scale":{"domain":[0,11],"nice":false},"axis":{"values":[1,2,3,4,5,6,7,8,9,10],"ticks":false,"labelPadding":3,"labelFontSize":10.5,"title":null}},"y":{"field":"y","type":"quantitative","scale":{"domain":[200,500],"nice":false},"axis":{"values":[200,300,400,500],"format":"d","title":null}}},"layer":[{"mark":{"type":"line","color":"#c6c6c6","strokeWidth":1.2},"encoding":{"detail":{"field":"s"}}},{"mark":{"type":"point","filled":true,"size":48,"stroke":"#1a1a1a","strokeWidth":0.8,"opacity":1},"encoding":{"color":{"field":"s","type":"nominal","scale":{"domain":["L","B"],"range":["#b52226","#3ed43e"]},"legend":{"title":null,"labelExpr":"datum.value=='L'?'Expression level':'Expression breadth'"}}}}]}
]
}
